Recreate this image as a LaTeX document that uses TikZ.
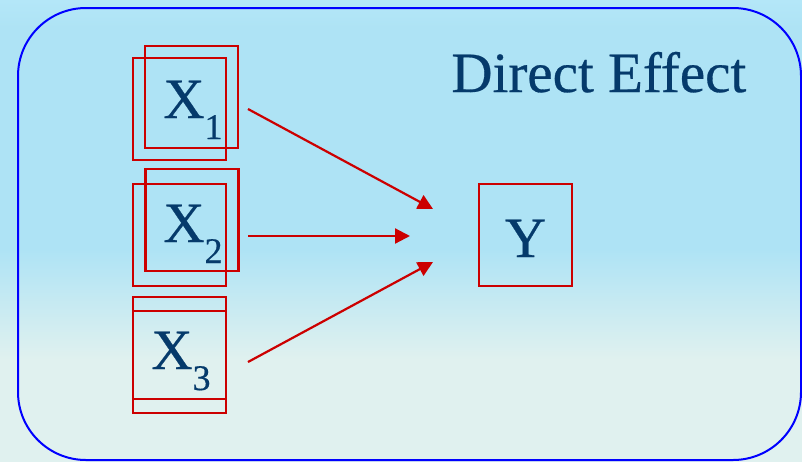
\documentclass[tikz,border=0pt]{standalone}
\usepackage{fontspec}
\setmainfont{Liberation Serif}
\newfontfamily\diagfont{Liberation Serif}[FakeBold=0.5]
\usepackage{tikz}
\usetikzlibrary{arrows.meta, positioning, calc}
\usepackage{xcolor}
\definecolor{bgblue}{HTML}{AEE3F5}
\definecolor{bgtop}{HTML}{B4E7F8}
\definecolor{bgpale}{HTML}{E0F1EF}
\definecolor{framebl}{HTML}{0000FF}
\definecolor{boxred}{HTML}{CC0000}
\definecolor{labelbl}{HTML}{053A6B}
\pgfdeclareverticalshading{bgfade}{100bp}{color(0bp)=(bgpale); color(36bp)=(bgpale); color(48bp)=(bgblue); color(72bp)=(bgblue); color(75bp)=(bgtop); color(100bp)=(bgtop)}
\newcommand{\subsize}{\fontsize{18}{18}\selectfont}
\tikzset{
    varbox/.style={
        rectangle, minimum width=46.5pt, minimum height=51pt, inner sep=0pt,
        draw=boxred, line width=1.1pt
    },
    varlabel/.style={
        inner sep=0pt, text=labelbl, anchor=base west,
        font=\diagfont\fontsize{28.5}{32}\selectfont
    },
    arrow/.style={
        -{Triangle[length=7.5pt, width=7.5pt]}, line width=1.1pt, draw=boxred
    },
    frame/.style={
        draw=framebl, line width=1pt, rounded corners=34pt
    }
}
\begin{document}
\begin{tikzpicture}[x=0.5pt, y=-0.5pt]

    \shade[shading=bgfade] (0,0) rectangle (802,461);
    \useasboundingbox (0,0) rectangle (802,461);
    \draw[frame] (18,8) rectangle (801,460);

    \node[varbox] (x1back) at (191.5,97)  {};
    \node[varbox] (x1)     at (179.5,109) {};
    \node[varbox] (x2back) at (192,220)   {};
    \node[varbox] (x2)     at (179.5,235) {};
    \node[varbox] (x3back) at (179.5,348) {};
    \node[varbox] (x3)     at (179.5,362) {};
    \node[varbox] (y)      at (525.5,235) {};

    \node[varlabel] (x1lab) at (163,118) {X\raisebox{-10.5pt}{\subsize 1}};
    \node[varlabel] (x2lab) at (163,242) {X\raisebox{-10.5pt}{\subsize 2}};
    \node[varlabel] (x3lab) at (151,369) {X\raisebox{-10.5pt}{\subsize 3}};
    \node[varlabel, anchor=base] (ylab) at (525.5,257) {Y};
    \node[varlabel] (title) at (451,92) {Direct Effect};

    \coordinate (a1s) at (248,109);
    \coordinate (a1e) at (433,209);
    \coordinate (a2s) at (248,236);
    \coordinate (a2e) at (410,236);
    \coordinate (a3s) at (248,362);
    \coordinate (a3e) at (433,262);

    \draw[arrow] (a1s) -- (a1e);
    \draw[arrow] (a2s) -- (a2e);
    \draw[arrow] (a3s) -- (a3e);

\end{tikzpicture}
\end{document}
